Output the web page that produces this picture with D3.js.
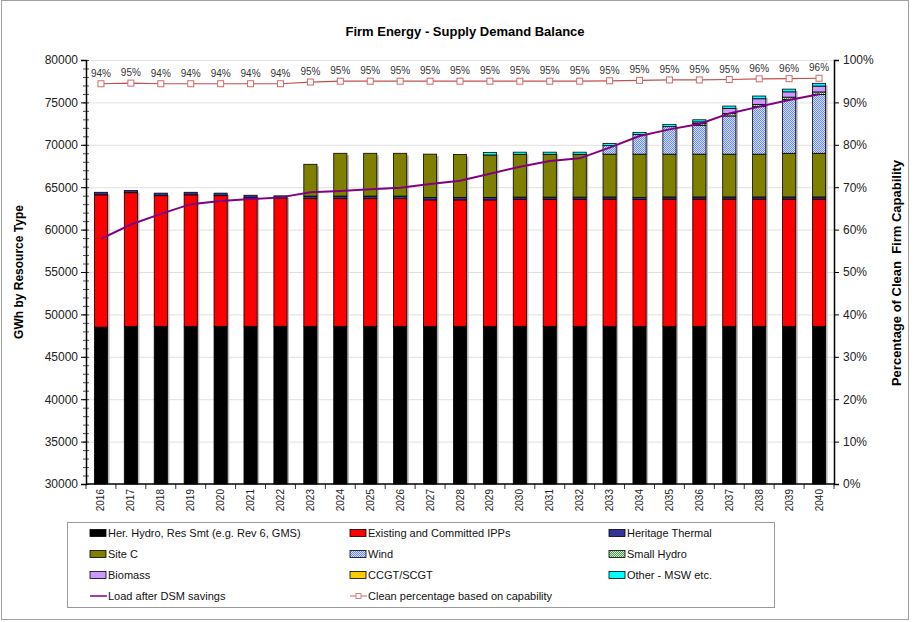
<!DOCTYPE html>
<html>
<head>
<meta charset="utf-8">
<script src="https://cdn.jsdelivr.net/npm/d3@7"></script>
<style>
body { margin: 0; background: #fff; font-family: "Liberation Sans", Arial, sans-serif; }
</style>
</head>
<body>
<script>
// data (GWh)
const years = [2016, 2017, 2018, 2019, 2020, 2021, 2022, 2023, 2024, 2025, 2026, 2027, 2028,
    2029, 2030, 2031, 2032, 2033, 2034, 2035, 2036, 2037, 2038, 2039, 2040];

const herHydro = [48500, 48600, 48600, 48600, 48600, 48600, 48600, 48600, 48600, 48600, 48600, 48600, 48600,
    48600, 48600, 48600, 48600, 48600, 48600, 48600, 48600, 48600, 48600, 48600, 48600];
const ipps = [15600, 15750, 15400, 15500, 15400, 15150, 15100, 15050, 15050, 15050, 15050, 14900, 14900,
    14900, 14980, 14980, 14980, 15000, 14950, 15000, 15000, 15000, 15000, 15000, 15000];
const herThermal = [300, 250, 300, 300, 300, 300, 280, 300, 300, 300, 300, 300, 300,
    300, 250, 250, 250, 250, 250, 250, 250, 250, 250, 250, 250];
const siteC = [0, 0, 0, 0, 0, 0, 0, 3750, 5050, 5050, 5050, 5100, 5050,
    5000, 5050, 5050, 5050, 5050, 5100, 5050, 5050, 5050, 5050, 5150, 5150];
const wind = [0, 0, 0, 0, 0, 0, 0, 0, 0, 0, 0, 0, 0,
    0, 0, 0, 0, 1000, 2300, 3240, 3400, 4500, 5600, 6350, 6930];
const smallHydro = [0, 0, 0, 0, 0, 0, 0, 0, 0, 0, 0, 0, 0,
    0, 0, 0, 0, 0, 0, 0, 200, 300, 270, 270, 300];
const biomass = [0, 0, 0, 0, 0, 0, 0, 0, 0, 0, 0, 0, 0,
    0, 0, 0, 0, 0, 0, 0, 200, 600, 660, 625, 700];
const ccgt = [0, 0, 0, 0, 0, 0, 0, 0, 0, 0, 0, 0, 0,
    0, 0, 0, 0, 0, 0, 0, 0, 0, 0, 0, 0];
const otherMsw = [0, 0, 0, 0, 0, 0, 0, 0, 0, 0, 0, 0, 0,
    300, 250, 250, 250, 270, 250, 270, 250, 270, 320, 320, 320];

const loadAfterDsm = [58900, 60600, 61850, 63000, 63370, 63600, 63800, 64400, 64550, 64750, 64940, 65380, 65770,
    66590, 67420, 68090, 68400, 69660, 71040, 71820, 72450, 73700, 74500, 75280, 75950];
const cleanPct = [0.944, 0.9455, 0.944, 0.944, 0.944, 0.944, 0.944, 0.948, 0.950, 0.950, 0.950, 0.950, 0.950,
    0.950, 0.950, 0.950, 0.950, 0.951, 0.952, 0.953, 0.953, 0.954, 0.9555, 0.956, 0.957];

const leftTicks = [30000, 35000, 40000, 45000, 50000, 55000, 60000, 65000, 70000, 75000, 80000];
const rightTicks = [0, 0.1, 0.2, 0.3, 0.4, 0.5, 0.6, 0.7, 0.8, 0.9, 1];

const series = [
    { key: 'herHydro', name: 'Her. Hydro, Res Smt (e.g. Rev 6, GMS)', fill: '#000000', values: herHydro },
    { key: 'ipps', name: 'Existing and Committed IPPs', fill: '#ff0000', values: ipps },
    { key: 'herThermal', name: 'Heritage Thermal', fill: '#333399', values: herThermal },
    { key: 'siteC', name: 'Site C', fill: '#808000', values: siteC },
    { key: 'wind', name: 'Wind', fill: 'url(#patWind)', values: wind },
    { key: 'smallHydro', name: 'Small Hydro', fill: 'url(#patHydro)', values: smallHydro },
    { key: 'biomass', name: 'Biomass', fill: '#cc99ff', values: biomass },
    { key: 'ccgt', name: 'CCGT/SCGT', fill: '#ffcc00', values: ccgt },
    { key: 'otherMsw', name: 'Other - MSW etc.', fill: '#00ffff', values: otherMsw }
];

const table = years.map((yr, i) => {
    const row = { year: yr };
    series.forEach(s => { row[s.key] = s.values[i]; });
    return row;
});

const W = 922, H = 622;
const svg = d3.select('body').append('svg').attr('width', W).attr('height', H)
    .style('font-family', '"Liberation Sans", Arial, sans-serif');

// patterns
const defs = svg.append('defs');
const pw = defs.append('pattern').attr('id', 'patWind').attr('patternUnits', 'userSpaceOnUse')
    .attr('width', 2).attr('height', 2);
pw.append('rect').attr('width', 2).attr('height', 2).attr('fill', '#d4ddff');
pw.append('rect').attr('width', 1).attr('height', 1).attr('fill', '#6a8cf0');
pw.append('rect').attr('x', 1).attr('y', 1).attr('width', 1).attr('height', 1).attr('fill', '#6a8cf0');
const ph = defs.append('pattern').attr('id', 'patHydro').attr('patternUnits', 'userSpaceOnUse')
    .attr('width', 2).attr('height', 2);
ph.append('rect').attr('width', 2).attr('height', 2).attr('fill', '#d0ebd0');
ph.append('rect').attr('width', 1).attr('height', 1).attr('fill', '#4e9a4e');
ph.append('rect').attr('x', 1).attr('y', 1).attr('width', 1).attr('height', 1).attr('fill', '#4e9a4e');

// outer frame
svg.append('rect').attr('x', 1.5).attr('y', 0.5).attr('width', 907).attr('height', 619)
    .attr('fill', 'none').attr('stroke', '#a0a0a0');

// scales
const x = d3.scaleBand().domain(years).range([86, 834]).paddingInner(0.56).paddingOuter(0.28);
const y = d3.scaleLinear().domain([30000, 80000]).range([484, 60]);
const yPct = d3.scaleLinear().domain([0, 1]).range([484, 60]);

// gridlines
svg.append('g').selectAll('line').data(leftTicks.slice(1)).join('line')
    .attr('x1', 86).attr('x2', 834)
    .attr('y1', d => y(d) + 0.5).attr('y2', d => y(d) + 0.5)
    .attr('stroke', '#e0e0e0');

// bars
const stacked = d3.stack().keys(series.map(s => s.key))(table);
const fillOf = {};
series.forEach(s => { fillOf[s.key] = s.fill; });

const clampY = v => y(Math.max(v, 30000));

// shadow
svg.append('g').selectAll('rect').data(table).join('rect')
    .attr('x', d => x(d.year) + 2)
    .attr('y', d => clampY(series.reduce((a, s) => a + d[s.key], 0)) + 2)
    .attr('width', x.bandwidth())
    .attr('height', d => 484 - clampY(series.reduce((a, s) => a + d[s.key], 0)) - 2)
    .attr('fill', '#b8b8b8');

svg.append('g').selectAll('g').data(stacked).join('g')
    .attr('fill', d => fillOf[d.key])
    .selectAll('rect').data(d => d.filter(p => p[1] > p[0])).join('rect')
    .attr('x', d => x(d.data.year))
    .attr('y', d => clampY(d[1]))
    .attr('width', x.bandwidth())
    .attr('height', d => clampY(d[0]) - clampY(d[1]))
    .attr('stroke', '#000').attr('stroke-width', 0.8);

// load line
const cx = d => x(d) + x.bandwidth() / 2;
svg.append('path').datum(years)
    .attr('d', d3.line().x(d => cx(d)).y((d, i) => y(loadAfterDsm[i])))
    .attr('fill', 'none').attr('stroke', '#800080').attr('stroke-width', 2);

// clean percentage line
svg.append('path').datum(years)
    .attr('d', d3.line().x(d => cx(d)).y((d, i) => yPct(cleanPct[i])))
    .attr('fill', 'none').attr('stroke', '#c0504d').attr('stroke-width', 1.2);
svg.append('g').selectAll('rect').data(years).join('rect')
    .attr('x', d => cx(d) - 3).attr('y', (d, i) => yPct(cleanPct[i]) - 3)
    .attr('width', 6).attr('height', 6)
    .attr('fill', '#fff').attr('stroke', '#d06a6a').attr('stroke-width', 1);
svg.append('g').selectAll('text').data(years).join('text')
    .attr('x', d => cx(d)).attr('y', (d, i) => yPct(cleanPct[i]) - 7)
    .attr('text-anchor', 'middle').attr('font-size', 10).attr('fill', '#333')
    .text((d, i) => Math.round(cleanPct[i] * 100) + '%');

// left axis
const gl = svg.append('g').attr('transform', 'translate(86,0)')
    .call(d3.axisLeft(y).tickValues(leftTicks).tickSize(5).tickPadding(3).tickFormat(d3.format('d')));
gl.select('.domain').attr('stroke', '#000').attr('stroke-width', 1.5);
gl.selectAll('text').attr('font-size', 12).attr('fill', '#222').attr('font-family', '"Liberation Sans", Arial, sans-serif');
svg.append('g').selectAll('line').data(d3.range(30000, 80001, 1000)).join('line')
    .attr('x1', 83).attr('x2', 89)
    .attr('y1', d => y(d) + 0.5).attr('y2', d => y(d) + 0.5)
    .attr('stroke', '#000').attr('stroke-width', 0.7);

// right axis
const gr = svg.append('g').attr('transform', 'translate(834,0)')
    .call(d3.axisRight(yPct).tickValues(rightTicks).tickSize(5).tickPadding(4).tickFormat(d3.format('.0%')));
gr.select('.domain').attr('stroke', '#000').attr('stroke-width', 1.5);
gr.selectAll('text').attr('font-size', 12).attr('fill', '#222').attr('font-family', '"Liberation Sans", Arial, sans-serif');

// x axis
svg.append('line').attr('x1', 86).attr('x2', 834).attr('y1', 484).attr('y2', 484)
    .attr('stroke', '#000').attr('stroke-width', 1.5);
svg.append('g').selectAll('line').data(years.concat([null])).join('line')
    .attr('x1', (d, i) => 86 + i * x.step()).attr('x2', (d, i) => 86 + i * x.step())
    .attr('y1', 484).attr('y2', 489)
    .attr('stroke', '#000').attr('stroke-width', 0.8);
svg.append('g').selectAll('text').data(years).join('text')
    .attr('transform', d => `translate(${cx(d) + 3.5},489) rotate(-90)`)
    .attr('text-anchor', 'end').attr('font-size', 10).attr('fill', '#222')
    .text(d => d);

// titles
svg.append('text').attr('x', 465).attr('y', 36).attr('text-anchor', 'middle')
    .attr('font-size', 13).attr('font-weight', 'bold').text('Firm Energy - Supply Demand Balance');
svg.append('text').attr('transform', 'translate(23,272) rotate(-90)').attr('text-anchor', 'middle')
    .attr('font-size', 12).attr('font-weight', 'bold').text('GWh by Resource Type');
svg.append('text').attr('transform', 'translate(901,273) rotate(-90)').attr('text-anchor', 'middle')
    .attr('font-size', 13).attr('font-weight', 'bold').attr('xml:space', 'preserve')
    .text('Percentage of Clean  Firm Capability');

// legend
svg.append('rect').attr('x', 67.5).attr('y', 522.5).attr('width', 707).attr('height', 85)
    .attr('fill', '#fff').attr('stroke', '#999');
const legItems = series.map(s => ({ type: 'box', name: s.name, fill: s.fill }))
    .concat([{ type: 'load', name: 'Load after DSM savings' },
             { type: 'pct', name: 'Clean percentage based on capability' }]);
const colX = [90, 350, 609];
const rowY = [533, 554, 575, 596];
const leg = svg.append('g').selectAll('g').data(legItems).join('g')
    .attr('transform', (d, i) => `translate(${colX[i % 3]},${rowY[Math.floor(i / 3)]})`);
leg.filter(d => d.type === 'box').append('rect')
    .attr('x', 0).attr('y', -3.5).attr('width', 16).attr('height', 7)
    .attr('fill', d => d.fill).attr('stroke', '#000').attr('stroke-width', 0.8);
leg.filter(d => d.type === 'load').append('line')
    .attr('x1', 0).attr('x2', 17).attr('y1', 0).attr('y2', 0)
    .attr('stroke', '#800080').attr('stroke-width', 1.5);
const lp = leg.filter(d => d.type === 'pct');
lp.append('line').attr('x1', 0).attr('x2', 17).attr('y1', 0).attr('y2', 0)
    .attr('stroke', '#d08080').attr('stroke-width', 1.2);
lp.append('rect').attr('x', 6).attr('y', -2.5).attr('width', 5).attr('height', 5)
    .attr('fill', '#fff').attr('stroke', '#d08080');
leg.append('text').attr('x', 18).attr('y', 4).attr('font-size', 11).attr('fill', '#111')
    .text(d => d.name);
</script>
</body>
</html>
